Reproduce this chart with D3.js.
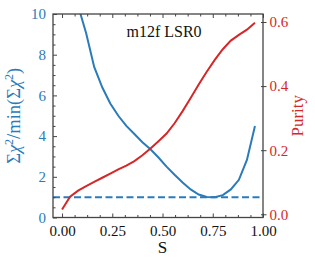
<!DOCTYPE html>
<html>
<head>
<meta charset="utf-8">
<script src="https://cdn.jsdelivr.net/npm/d3@7"></script>
<style>
  body { margin: 0; background: #fff; }
  #chart { width: 315px; height: 264px; }
</style>
</head>
<body>
<div id="chart"></div>
<script>
// S grid and the two curves
const sValues = [0.00, 0.04, 0.08, 0.12, 0.16, 0.20, 0.24, 0.28, 0.32, 0.36, 0.40, 0.44,
    0.48, 0.52, 0.56, 0.60, 0.64, 0.68, 0.72, 0.76, 0.80, 0.84, 0.88, 0.92, 0.96];
const chi2Ratio = [18.0, 14.5, 10.4, 9.05, 7.4, 6.4, 5.6, 5.0, 4.5, 4.1, 3.7, 3.35,
    2.95, 2.5, 2.1, 1.72, 1.38, 1.13, 1.01, 1.0, 1.1, 1.38, 1.85, 2.83, 4.5];
const purity = [0.015, 0.055, 0.074, 0.088, 0.101, 0.114, 0.127, 0.140, 0.152, 0.166, 0.184, 0.205,
    0.228, 0.252, 0.284, 0.322, 0.363, 0.405, 0.445, 0.482, 0.515, 0.542, 0.560, 0.576, 0.598];
const refLevel = 1;

const xTicks = [0, 0.25, 0.5, 0.75, 1.0];
const yLeftTicks = [0, 2, 4, 6, 8, 10];
const yRightTicks = [0, 0.2, 0.4, 0.6];
const title = "m12f LSR0";

const blue = "#2b7bba";
const red = "#d62728";
const frameColor = "#444";
const serif = "'Liberation Serif'";

let div = document.getElementById("chart");
let W = 315, H = 264;
let mLeft = 53, mRight = 263, mTop = 14, mBottom = 217.5;

let svg = d3.select(div).append("svg").attr("width", W).attr("height", H)
    .style("font-family", serif);

let x = d3.scaleLinear().domain([-0.045, 1.0]).range([mLeft, mRight]);
let yL = d3.scaleLinear().domain([0, 10]).range([mBottom, mTop]);
let yR = d3.scaleLinear().domain([-0.01, 0.625]).range([mBottom, mTop]);

svg.append("defs").append("clipPath").attr("id", "clip")
    .append("rect").attr("x", mLeft).attr("y", mTop)
    .attr("width", mRight - mLeft).attr("height", mBottom - mTop);

let plot = svg.append("g").attr("clip-path", "url(#clip)");

// reference line at 1
plot.append("line")
    .attr("x1", mLeft).attr("x2", mRight)
    .attr("y1", yL(refLevel)).attr("y2", yL(refLevel))
    .attr("stroke", blue).attr("stroke-width", 2)
    .attr("stroke-dasharray", "7,3.5");

let pts = sValues.map((s, i) => ({s: s, c: chi2Ratio[i], p: purity[i]}));

plot.append("path")
    .attr("d", d3.line().x(d => x(d.s)).y(d => yL(d.c))(pts))
    .attr("fill", "none").attr("stroke", blue).attr("stroke-width", 2);

plot.append("path")
    .attr("d", d3.line().x(d => x(d.s)).y(d => yR(d.p))(pts))
    .attr("fill", "none").attr("stroke", red).attr("stroke-width", 2);

// axes
let fmt2 = d3.format(".2f");
let xMinor = d3.range(0, 1.0001, 0.0625).filter(v => xTicks.indexOf(v) < 0);
let yMinor = d3.range(0, 10.001, 0.5).filter(v => yLeftTicks.indexOf(v) < 0);

let axB = svg.append("g").attr("transform", `translate(0,${mBottom})`)
    .call(d3.axisBottom(x).tickValues(xTicks).tickFormat(fmt2).tickSizeInner(-4).tickSizeOuter(0).tickPadding(8));
let axBm = svg.append("g").attr("transform", `translate(0,${mBottom})`)
    .call(d3.axisBottom(x).tickValues(xMinor).tickFormat("").tickSizeInner(-2.5).tickSizeOuter(0));
let axT = svg.append("g").attr("transform", `translate(0,${mTop})`)
    .call(d3.axisTop(x).tickValues(xTicks).tickFormat("").tickSizeInner(-4).tickSizeOuter(0));
let axTm = svg.append("g").attr("transform", `translate(0,${mTop})`)
    .call(d3.axisTop(x).tickValues(xMinor).tickFormat("").tickSizeInner(-2.5).tickSizeOuter(0));
let axL = svg.append("g").attr("transform", `translate(${mLeft},0)`)
    .call(d3.axisLeft(yL).tickValues(yLeftTicks).tickFormat(d3.format("d")).tickSizeInner(-4).tickSizeOuter(0).tickPadding(7));
let axLm = svg.append("g").attr("transform", `translate(${mLeft},0)`)
    .call(d3.axisLeft(yL).tickValues(yMinor).tickFormat("").tickSizeInner(-2.5).tickSizeOuter(0));
let axR = svg.append("g").attr("transform", `translate(${mRight},0)`)
    .call(d3.axisRight(yR).tickValues(yRightTicks).tickFormat(d3.format(".1f")).tickSizeInner(3.5).tickSizeOuter(0).tickPadding(3));
axR.selectAll(".tick line").attr("x1", -2);

[axB, axBm, axT, axTm, axL, axLm, axR].forEach(a => {
    a.attr("font-family", null).attr("font-size", null);
    a.select(".domain").remove();
    a.selectAll(".tick line").attr("stroke", frameColor).attr("stroke-width", 1);
    a.selectAll("text").style("font-family", serif).style("font-size", "15px");
});
axB.selectAll("text").attr("fill", "#111");
axL.selectAll("text").attr("fill", blue);
axR.selectAll("text").attr("fill", red);

// frame
svg.append("rect")
    .attr("x", mLeft).attr("y", mTop)
    .attr("width", mRight - mLeft).attr("height", mBottom - mTop)
    .attr("fill", "none").attr("stroke", frameColor).attr("stroke-width", 1.3);

// labels
svg.append("text")
    .attr("x", x(0.5)).attr("y", 253)
    .attr("text-anchor", "middle").style("font-size", "17px").attr("fill", "#111")
    .text("S");

let yl = svg.append("text")
    .attr("transform", `translate(20,${(mTop + mBottom) / 2}) rotate(-90)`)
    .attr("text-anchor", "middle").style("font-size", "18.5px").attr("fill", blue);
yl.append("tspan").text("Σ");
yl.append("tspan").attr("font-style", "italic").text("χ");
yl.append("tspan").style("font-size", "12px").attr("dy", -7).text("2");
yl.append("tspan").attr("dy", 7).text("/min(Σ");
yl.append("tspan").attr("font-style", "italic").text("χ");
yl.append("tspan").style("font-size", "12px").attr("dy", -7).text("2");
yl.append("tspan").attr("dy", 7).text(")");

svg.append("text")
    .attr("transform", `translate(303,${(mTop + mBottom) / 2}) rotate(-90)`)
    .attr("text-anchor", "middle").style("font-size", "17px").attr("fill", red)
    .text("Purity");

svg.append("text")
    .attr("x", 164).attr("y", 37)
    .attr("text-anchor", "middle").style("font-size", "16px").attr("fill", "#111")
    .text(title);
</script>
</body>
</html>
